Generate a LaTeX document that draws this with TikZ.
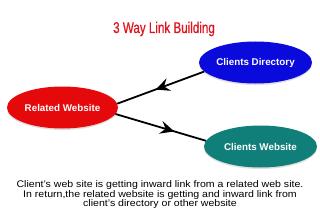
\documentclass[tikz,border=0pt]{standalone}
\usepackage{fontspec}
\setmainfont{Liberation Sans}
\usetikzlibrary{arrows.meta,decorations.markings,shadows,shapes.geometric}
\definecolor{dirblue}{HTML}{0A0ADC}
\definecolor{relred}{HTML}{E6090C}
\definecolor{webteal}{HTML}{117F79}
\definecolor{titlered}{HTML}{E0141E}
\tikzset{
  site/.style={ellipse, minimum width=113pt, minimum height=42pt, inner sep=0pt,
    text=white, font=\bfseries\fontsize{9.8}{11}\selectfont,
    drop shadow={shadow xshift=0pt, shadow yshift=-1.5pt, opacity=0.25, fill=gray}},
  link/.style={line width=1.8pt, postaction={decorate},
    decoration={markings, mark=at position #1 with {\arrow{Stealth[length=14pt,width=13pt,inset=5pt]}}}}
}
\begin{document}
\begin{tikzpicture}[x=1pt,y=-1pt]
\useasboundingbox[fill=white] (0,0) rectangle (320,211);
\node[text=titlered, anchor=base, inner sep=0pt,
  font=\addfontfeature{FakeStretch=0.75,FakeBold=0.6}\fontsize{15.5}{17}\selectfont] (title) at (164,33) {3 Way Link Building};
\node[site, fill=dirblue] (dir) at (255.5,62.5) {Clients Directory};
\node[site, fill=relred, minimum width=111pt] (rel) at (62.5,107.5) {Related Website};
\node[site, fill=webteal] (web) at (260.5,146.5) {Clients Website};
\draw[link=0.56] (dir.190) -- (rel.4);
\draw[link=0.65] (rel.353) -- (web.174);
\node[anchor=north, inner sep=0pt, align=center,
  font=\addfontfeature{FakeStretch=1.1}\fontsize{9.6}{9.6}\selectfont] (note) at (160,180.5)
  {Client's web site is getting inward link from a related web site.\\
   In return,the related website is getting and inward link from\\
   client's directory or other website};
\end{tikzpicture}
\end{document}
